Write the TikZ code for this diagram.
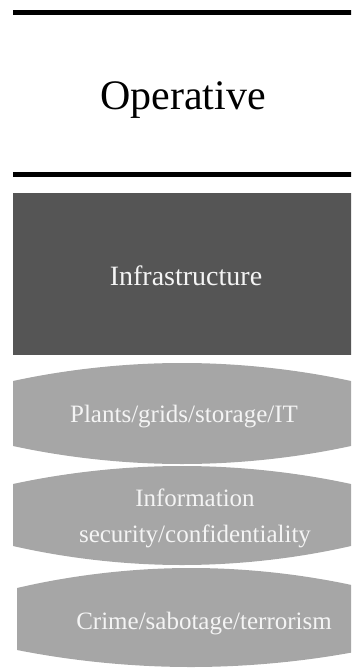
\documentclass[tikz,border=0pt]{standalone}
\usepackage{fontspec}
\setmainfont{Liberation Serif}
\definecolor{darkbox}{HTML}{555555}
\definecolor{lightbox}{HTML}{A6A6A6}
\definecolor{paletext}{HTML}{F4F4F4}
\tikzset{
  rule/.style={line width=4.5pt, black},
  lens/.style={fill=lightbox, draw=none},
  lenstext/.style={text=paletext, font=\fontsize{25}{36}\selectfont, align=center, anchor=base, inner sep=0pt},
}
\begin{document}
\begin{tikzpicture}[x=1pt, y=-1pt]
\useasboundingbox (0,0) rectangle (351,668);
\clip (0,0) rectangle (351,668);
% rules
\coordinate (r1a) at (13,12.5);
\coordinate (r1b) at (352,12.5);
\coordinate (r2a) at (13,174.5);
\coordinate (r2b) at (352,174.5);
\draw[rule] (r1a) -- (r1b);
\draw[rule] (r2a) -- (r2b);
\node[font=\fontsize{42}{50}\selectfont, anchor=base, inner sep=0pt] (operative) at (183,110) {Operative};
% dark box
\fill[darkbox] (13,193) rectangle (352,355);
\node[text=paletext, font=\fontsize{28}{34}\selectfont, anchor=base, inner sep=0pt] (infra) at (186,285) {Infrastructure};
% lens shapes
\fill[lens] (13,381) parabola bend (182,363) (351,381) -- (351,446) parabola bend (182,464) (13,446) -- cycle;
\fill[lens] (13,484) parabola bend (182,466) (351,484) -- (351,546) parabola bend (182,565) (13,546) -- cycle;
\fill[lens] (17,588) parabola bend (191,568) (365,588) -- (365,650) parabola bend (191,667) (17,650) -- cycle;
\node[lenstext] (plants) at (184,422) {Plants/grids/storage/IT};
\node[lenstext] (infosec) at (195,542) {Information\\security/confidentiality};
\node[lenstext] (crime) at (204,629) {Crime/sabotage/terrorism};
\end{tikzpicture}
\end{document}
